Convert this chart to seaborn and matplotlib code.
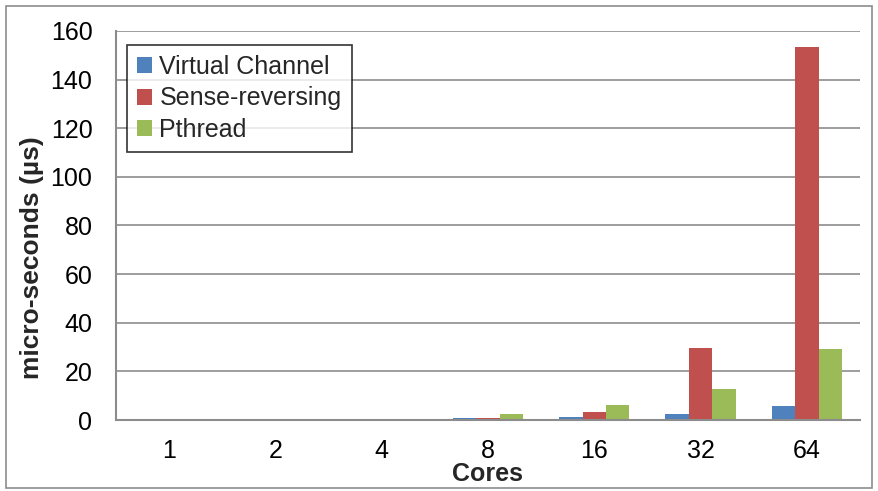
import matplotlib
matplotlib.use("Agg")
import matplotlib.pyplot as plt
from matplotlib.patches import Rectangle
import seaborn as sns
import pandas as pd
import numpy as np

cores = ["1", "2", "4", "8", "16", "32", "64"]
virtual_channel = [0.05, 0.05, 0.1, 0.8, 1.4, 2.4, 5.8]
sense_reversing = [0.05, 0.05, 0.1, 1.0, 3.4, 29.7, 153.5]
pthread = [0.05, 0.05, 0.4, 2.3, 6.1, 12.9, 29.4]
series_names = ["Virtual Channel", "Sense-reversing", "Pthread"]
colors = ["#4F81BD", "#C0504D", "#9BBB59"]

df = pd.DataFrame({
    "Cores": cores * 3,
    "value": virtual_channel + sense_reversing + pthread,
    "series": [series_names[0]] * 7 + [series_names[1]] * 7 + [series_names[2]] * 7,
})

sns.set_theme(style="white")
plt.rcParams["font.family"] = ["Liberation Sans", "DejaVu Sans"]

W, H = 879, 491
fig = plt.figure(figsize=(8.79, 4.91), dpi=100)
ax = fig.add_axes([116 / W, 1 - 420 / H, (860 - 116) / W, (420 - 31) / H])

sns.barplot(data=df, x="Cores", y="value", hue="series", order=cores,
            hue_order=series_names, palette=colors, width=0.66, gap=0,
            ax=ax, saturation=1, edgecolor="none", linewidth=0)

ax.set_ylim(0, 160)
ax.set_xlim(-0.5, 6.5)
ax.set_yticks(np.arange(0, 161, 20))
ax.yaxis.grid(True, color="#8c8c8c", linewidth=1.2)
ax.set_axisbelow(True)
for s in ["top", "right"]:
    ax.spines[s].set_visible(False)
for s in ["left", "bottom"]:
    ax.spines[s].set_color("#8c8c8c")
    ax.spines[s].set_linewidth(1.5)

ax.tick_params(axis="y", length=0, labelsize=18, pad=17, colors="black")
ax.tick_params(axis="x", length=0, labelsize=18, pad=14, colors="black")
ax.set_xticks(np.arange(-0.5, 7.0, 1.0), minor=True)
ax.tick_params(axis="x", which="minor", direction="in", length=7, width=1.5, color="#8c8c8c")

ax.set_xlabel("")
ax.set_ylabel("")
fig.text(488 / W, 1 - 474 / H, "Cores", fontsize=18, fontweight="bold",
         ha="center", va="center")
fig.text(32 / W, 1 - 258 / H, "micro-seconds (µs)", fontsize=19, fontweight="bold",
         ha="center", va="center", rotation=90)

leg = ax.legend(loc="upper left", bbox_to_anchor=(127 / W, 1 - 45 / H),
                bbox_transform=fig.transFigure, borderaxespad=0, fontsize=18,
                frameon=True, fancybox=False, edgecolor="black", handlelength=0.6,
                handleheight=0.6, handletextpad=0.3, borderpad=0.4, labelspacing=0.3)
leg.get_frame().set_linewidth(1.2)
leg.set_title(None)

fig.patches.append(Rectangle((6.5 / W, 1 - 487.5 / H), 866 / W, 482 / H,
                             transform=fig.transFigure, fill=False,
                             edgecolor="#8c8c8c", linewidth=1.2))

fig.savefig("out.png", dpi=100)
